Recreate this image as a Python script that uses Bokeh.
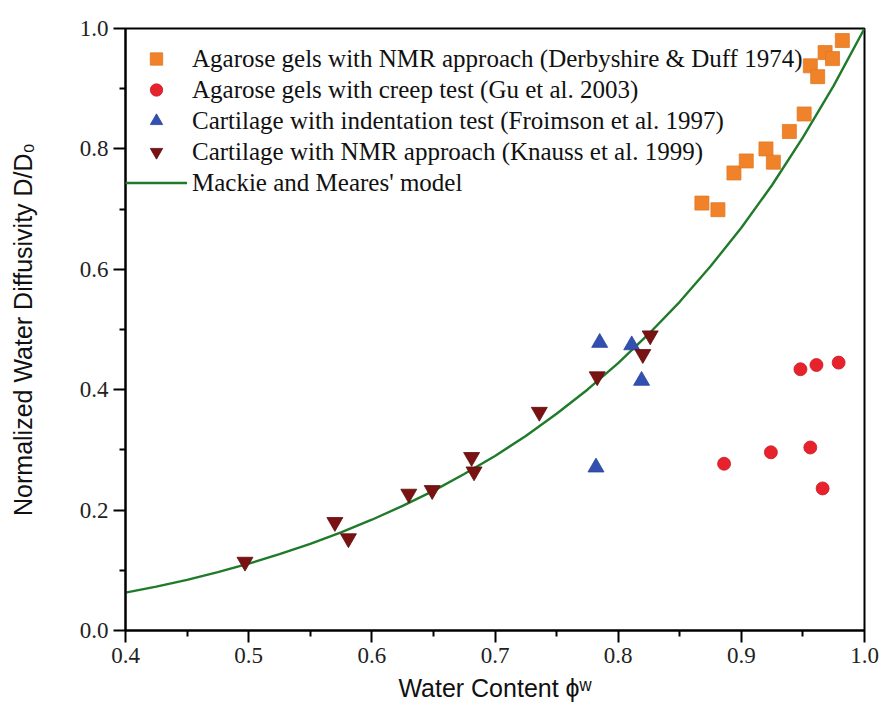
from bokeh.plotting import figure
from bokeh.models import Range1d, FixedTicker, Legend, LegendItem, NumeralTickFormatter
from bokeh.embed import file_html
from bokeh.resources import INLINE

# --- data ---
agar_nmr_x = [0.868, 0.881, 0.894, 0.904, 0.920, 0.926, 0.939, 0.951, 0.956, 0.962, 0.968, 0.974, 0.982]
agar_nmr_y = [0.710, 0.699, 0.760, 0.780, 0.800, 0.778, 0.829, 0.858, 0.938, 0.920, 0.960, 0.950, 0.980]

agar_creep_x = [0.886, 0.924, 0.956, 0.966, 0.948, 0.961, 0.979]
agar_creep_y = [0.277, 0.296, 0.304, 0.236, 0.434, 0.441, 0.445]

cart_indent_x = [0.785, 0.811, 0.819, 0.782]
cart_indent_y = [0.478, 0.474, 0.415, 0.271]

cart_nmr_x = [0.497, 0.570, 0.581, 0.630, 0.649, 0.681, 0.683, 0.736, 0.783, 0.820, 0.826]
cart_nmr_y = [0.114, 0.180, 0.153, 0.227, 0.233, 0.288, 0.264, 0.363, 0.422, 0.459, 0.490]

model_x = [0.400, 0.425, 0.450, 0.475, 0.500, 0.525, 0.550, 0.575, 0.600, 0.625, 0.650,
           0.675, 0.700, 0.725, 0.750, 0.775, 0.800, 0.825, 0.850, 0.875, 0.900, 0.925,
           0.950, 0.975, 1.000]
model_y = [0.063, 0.073, 0.084, 0.097, 0.111, 0.127, 0.144, 0.163, 0.184, 0.207, 0.232,
           0.260, 0.290, 0.323, 0.360, 0.400, 0.444, 0.493, 0.546, 0.605, 0.669, 0.740,
           0.819, 0.905, 1.000]

x_major = [0.4, 0.5, 0.6, 0.7, 0.8, 0.9, 1.0]
x_minor = [0.45, 0.55, 0.65, 0.75, 0.85, 0.95]
y_major = [0.0, 0.2, 0.4, 0.6, 0.8, 1.0]
y_minor = [0.1, 0.3, 0.5, 0.7, 0.9]

labels = [
    "Agarose gels with NMR approach (Derbyshire & Duff 1974)",
    "Agarose gels with creep test (Gu et al. 2003)",
    "Cartilage with indentation test (Froimson et al. 1997)",
    "Cartilage with NMR approach (Knauss et al. 1999)",
    "Mackie and Meares' model",
]
x_title = "Water Content \u03d5\u02b7"
y_title = "Normalized Water Diffusivity D/D\u2080"

# --- figure ---
p = figure(width=882, height=707, output_backend="svg", toolbar_location=None,
           x_range=Range1d(0.4, 1.0), y_range=Range1d(0.0, 1.0),
           min_border_left=125, min_border_right=18, min_border_top=28, min_border_bottom=77)
p.background_fill_color = "white"
p.border_fill_color = "white"
p.xgrid.visible = False
p.ygrid.visible = False
p.outline_line_color = "black"
p.outline_line_width = 2
p.outline_line_alpha = 1

line = p.line(model_x, model_y, line_color="#1f7a2a", line_width=2.4)
r1 = p.scatter(agar_nmr_x, agar_nmr_y, marker="square", size=14,
               fill_color="#f0832a", line_color="#e07a24", line_width=0.8)
r2 = p.scatter(agar_creep_x, agar_creep_y, marker="circle", size=13,
               fill_color="#e8222c", line_color="#c81c24", line_width=0.8)
r3 = p.scatter(cart_indent_x, cart_indent_y, marker="triangle", size=16,
               fill_color="#3150b0", line_color="#2a4499", line_width=0.8)
r4 = p.scatter(cart_nmr_x, cart_nmr_y, marker="inverted_triangle", size=16,
               fill_color="#7a1212", line_color="#5e0e0e", line_width=0.8)

for ax, major, minor, title in ((p.xaxis[0], x_major, x_minor, x_title),
                                (p.yaxis[0], y_major, y_minor, y_title)):
    ax.ticker = FixedTicker(ticks=major, minor_ticks=minor)
    ax.formatter = NumeralTickFormatter(format="0.0")
    ax.axis_label = title
    ax.axis_label_text_font = "Liberation Sans"
    ax.axis_label_text_font_style = "normal"
    ax.axis_label_text_font_size = "25px"
    ax.axis_label_text_color = "#111111"
    ax.major_label_text_font = "Liberation Serif"
    ax.major_label_text_font_size = "23px"
    ax.major_label_text_color = "#222222"
    ax.axis_line_color = "black"
    ax.axis_line_width = 2
    ax.major_tick_line_color = "black"
    ax.major_tick_line_width = 2
    ax.minor_tick_line_color = "black"
    ax.minor_tick_line_width = 2
    ax.major_tick_in = 0
    ax.major_tick_out = 12
    ax.minor_tick_in = 0
    ax.minor_tick_out = 6
    ax.major_label_standoff = 5

p.xaxis[0].axis_label_standoff = 8
p.yaxis[0].axis_label_standoff = 40
p.yaxis[0].major_label_orientation = "horizontal"

legend = Legend(items=[LegendItem(label=labels[0], renderers=[r1]),
                       LegendItem(label=labels[1], renderers=[r2]),
                       LegendItem(label=labels[2], renderers=[r3]),
                       LegendItem(label=labels[3], renderers=[r4]),
                       LegendItem(label=labels[4], renderers=[line])],
                location=(0, 432))
legend.label_text_font = "Liberation Serif"
legend.label_text_font_size = "25px"
legend.label_text_color = "#111111"
legend.glyph_width = 62
legend.glyph_height = 31
legend.label_height = 31
legend.label_standoff = 5
legend.spacing = 0
legend.padding = 0
legend.margin = 0
legend.border_line_alpha = 0
legend.background_fill_alpha = 0
p.add_layout(legend, "center")

open("out.html", "w").write(file_html(p, INLINE))
